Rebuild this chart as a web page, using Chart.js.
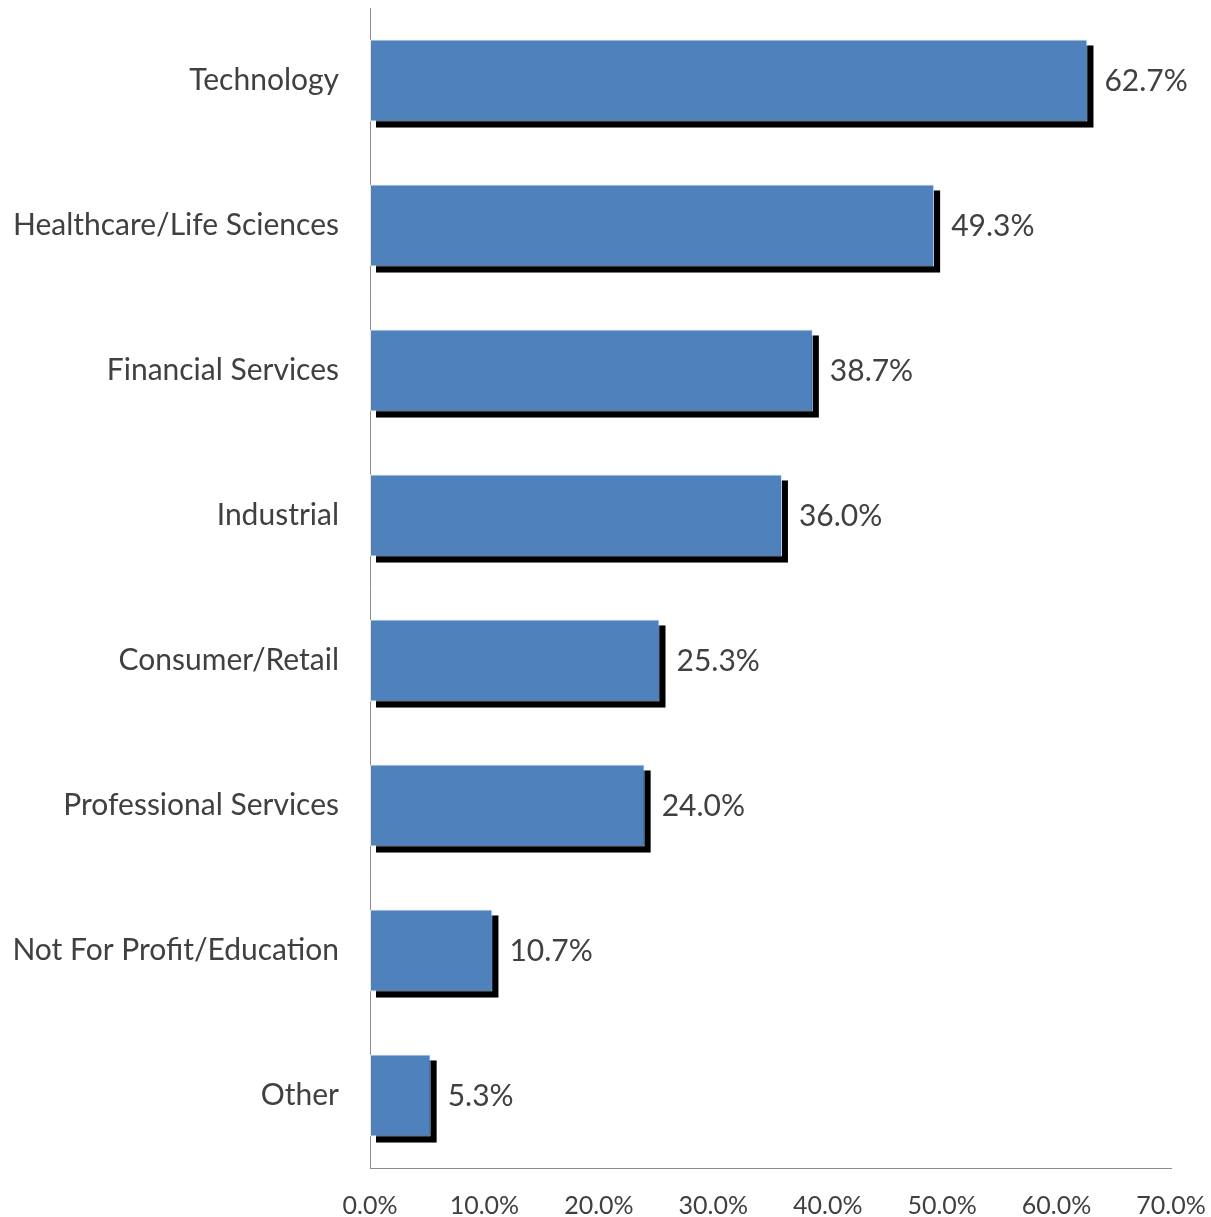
<!DOCTYPE html>
<html>
<head>
<meta charset="utf-8">
<script src="https://cdn.jsdelivr.net/npm/chart.js@4"></script>
<style>
  body { margin: 0; background: #fff; }
  canvas { display: block; }
</style>
</head>
<body>
<canvas id="chart" width="1211" height="1217"></canvas>
<script>
// Sectors and share of respondents (%)
const sectors = [
  "Technology",
  "Healthcare/Life Sciences",
  "Financial Services",
  "Industrial",
  "Consumer/Retail",
  "Professional Services",
  "Not For Profit/Education",
  "Other"
];
const shares = [62.7, 49.3, 38.7, 36.0, 25.3, 24.0, 10.7, 5.3];
const axisTicks = [0, 10, 20, 30, 40, 50, 60, 70];

const FONT = "Lato, 'Open Sans', sans-serif";
const TEXT = "#404040";

// keep the plot area exactly where layout.padding puts it
function noScalePadding(s) {
  s.paddingTop = 0;
  s.paddingBottom = 0;
  s.paddingLeft = 0;
  s.paddingRight = 0;
}

// black drop shadow behind each bar
const barShadow = {
  id: "barShadow",
  beforeDatasetsDraw(chart) {
    const ctx = chart.ctx;
    const meta = chart.getDatasetMeta(0);
    ctx.save();
    ctx.fillStyle = "#000";
    meta.data.forEach(bar => {
      const p = bar.getProps(["x", "y", "base", "height"], true);
      const left = Math.min(p.base, p.x);
      const w = Math.abs(p.x - p.base);
      ctx.fillRect(left + 6, p.y - p.height / 2 + 6, w, p.height);
    });
    ctx.restore();
  }
};

// value labels at the end of each bar
const valueLabels = {
  id: "valueLabels",
  afterDatasetsDraw(chart) {
    const ctx = chart.ctx;
    const meta = chart.getDatasetMeta(0);
    ctx.save();
    ctx.font = "30px " + FONT;
    ctx.fillStyle = TEXT;
    ctx.textAlign = "left";
    ctx.textBaseline = "middle";
    meta.data.forEach((bar, i) => {
      ctx.fillText(shares[i].toFixed(1) + "%", bar.x + 17, bar.y + 1);
    });
    ctx.restore();
  }
};

new Chart(document.getElementById("chart"), {
  type: "bar",
  data: {
    labels: sectors,
    datasets: [{
      data: shares,
      backgroundColor: "#4F81BD",
      borderColor: "#DCE6F2",
      borderWidth: 1,
      borderSkipped: false,
      barPercentage: 1,
      categoryPercentage: 0.566
    }]
  },
  options: {
    indexAxis: "y",
    responsive: false,
    animation: false,
    devicePixelRatio: 1,
    layout: { padding: { top: 8, right: 40, left: 0, bottom: 0 } },
    plugins: { legend: { display: false }, tooltip: { enabled: false } },
    scales: {
      x: {
        min: 0,
        max: 70,
        afterBuildTicks: s => { s.ticks = axisTicks.map(v => ({ value: v })); },
        afterFit: s => { s.height = 49; noScalePadding(s); },
        grid: { display: false, drawTicks: false },
        border: { display: true, color: "#8C8C8C", width: 1 },
        ticks: {
          padding: 23,
          maxRotation: 0,
          autoSkip: false,
          color: TEXT,
          font: { family: FONT, size: 25 },
          callback: v => v.toFixed(1) + "%"
        }
      },
      y: {
        afterFit: s => { s.width = 370; noScalePadding(s); },
        grid: { display: false, drawTicks: false },
        border: { display: true, color: "#8C8C8C", width: 1 },
        ticks: {
          padding: 31,
          color: TEXT,
          font: { family: FONT, size: 30 }
        }
      }
    }
  },
  plugins: [barShadow, valueLabels]
});
</script>
</body>
</html>
